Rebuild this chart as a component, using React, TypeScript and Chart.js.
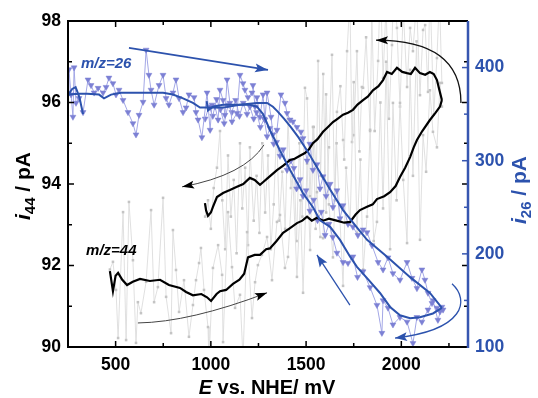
import React, { useEffect, useRef } from 'react';
import { Chart, registerables } from 'chart.js';
Chart.register(...registerables);

const FONT = '"Liberation Sans", Arial, Helvetica, sans-serif';
const BLUE = '#2c52ad';
const BLUE_AXIS = '#3756b0';

// ---------- tick values ----------
const xMajor = [500, 1000, 1500, 2000];
const xMinor = [750, 1250, 1750, 2250];
const yMajor = [90, 92, 94, 96, 98];
const yMinor = [91, 93, 95, 97];
const y2Major = [100, 200, 300, 400];
const y2Minor = [150, 250, 350, 450];

// ---------- m/z = 44 smoothed (black), left axis ----------
const e44Fwd = [470,486,500,513,535,560,590,628,680,733,780,838,870,906,950,980,1001,1030,1048,1080,1116,1150,1175,1195,1230,1258,1290,1310,1345,1379,1410,1452,1480,1505,1530,1557,1590,1620,1660,1700,1731,1760,1783,1820,1850,1872,1910,1941,1970,1993,2020,2046,2065,2082,2110,2150,2180,2203,2213];
const i44Fwd = [91.86,91.37,91.75,91.82,91.65,91.52,91.6,91.67,91.62,91.65,91.52,91.45,91.35,91.27,91.3,91.22,91.13,91.3,91.37,91.4,91.55,91.65,91.8,92.2,92.26,92.26,92.4,92.42,92.6,92.8,92.9,93.04,93.1,93.2,93.1,93.17,93.1,93.15,93.1,93.05,93.07,93.25,93.36,93.44,93.5,93.63,93.7,93.8,93.95,94.17,94.4,94.66,94.9,95.08,95.3,95.57,95.75,95.9,96.06];
const e44Rev = [2213,2200,2187,2170,2150,2125,2098,2072,2050,2030,2005,1977,1950,1925,1904,1880,1851,1825,1799,1770,1746,1720,1694,1665,1641,1615,1589,1560,1536,1515,1494,1470,1440,1416,1380,1347,1300,1275,1258,1230,1205,1170,1137,1100,1064,1032,1011,1000,985,975,969];
const i44Rev = [96.06,96.3,96.55,96.7,96.75,96.68,96.72,96.85,96.7,96.72,96.75,96.85,96.7,96.75,96.55,96.4,96.3,96.15,96.06,95.95,95.82,95.75,95.7,95.6,95.52,95.4,95.28,95.1,95.0,94.85,94.76,94.7,94.62,94.59,94.45,94.34,94.15,94.05,93.98,94.1,94.15,94.0,93.93,93.85,93.78,93.68,93.44,93.3,93.22,93.35,93.53];

// ---------- m/z = 44 raw (grey) ----------
const e44RawFwd = [470,486,502,513,539,555,570,591,607,617,633,660,686,702,722,749,765,791,801,817,833,859,885,906,922,938,948,964,985,990,1011,1038,1059,1064,1090,1111,1127,1153,1169,1190,1216,1232,1247,1268,1295,1321,1347,1363,1389,1405,1430,1452,1470,1484,1505,1521,1540,1557,1575,1589,1605,1620,1641,1660,1678,1694,1710,1731,1750,1767,1785,1800,1820,1836,1855,1872,1890,1904,1920,1941,1956,1975,1993,2010,2030,2046,2061,2080,2098,2114,2130,2150,2166,2187,2203,2213];
const i44RawFwd = [91.9,92.09,91.4,90.22,93.31,90.17,93.56,92.13,90.1,91.1,90.83,91.6,93.36,91.1,91.47,93.66,91.23,90.34,92.87,91.89,90.86,91.64,90.25,91.03,91.64,92.06,92.43,91.4,90.49,89.6,91.94,92.5,91.77,90.12,93.31,91.96,90.96,91.28,89.7,92.82,90.71,91.59,92.01,92.26,92.7,91.64,93.07,93.24,91.94,92.21,94.2,91.72,93.6,91.33,94.5,92.38,95.4,93.8,92.7,92.67,96.2,93.5,92.2,95.0,93.1,91.5,94.4,93.0,96.5,92.8,94.6,91.9,93.2,95.3,92.6,93.07,96.0,93.4,97.0,92.4,95.99,93.6,95.99,94.1,92.55,96.8,94.2,97.5,92.63,95.2,94.3,96.3,95.28,94.9,96.48,95.9];
const e44RawRev = [2213,2200,2187,2170,2150,2140,2125,2114,2098,2080,2061,2046,2030,2010,1993,1977,1960,1951,1935,1920,1904,1890,1878,1860,1845,1836,1815,1799,1793,1780,1767,1750,1741,1730,1715,1700,1694,1680,1662,1650,1636,1620,1605,1590,1576,1563,1550,1536,1520,1505,1494,1480,1465,1450,1436,1420,1405,1390,1375,1360,1345,1330,1315,1300,1285,1270,1255,1240,1225,1205,1195,1180,1165,1153,1135,1120,1105,1090,1075,1060,1048,1032,1015,1000,985,970];
const i44RawRev = [96.48,98.6,97.09,95.7,98.9,96.26,97.9,97.78,96.18,98.5,97.26,97.83,96.38,98.3,95.9,97.83,99.0,97.41,95.6,98.4,96.6,99.0,97.02,95.3,98.2,95.33,97.6,96.36,96.38,94.8,97.26,95.2,95.03,98.5,97.26,94.6,95.08,96.4,95.77,93.6,97.17,94.9,93.3,96.7,94.2,97.02,92.9,95.4,93.7,96.1,96.36,93.2,95.0,92.6,94.6,93.9,95.6,92.9,94.3,93.1,95.3,93.5,92.4,94.7,93.3,95.0,92.8,94.2,93.1,94.9,92.5,94.4,93.4,95.0,92.3,94.1,93.2,94.7,92.4,93.6,95.3,94.4,93.9,92.9,93.6,93.2];

// ---------- m/z = 26 smoothed (blue), right axis ----------
const e26Fwd = [329,310,290,272,255,240,260,300,350,413,439,476,528,591,660,749,801,854,906,943,1000,1064,1153,1242,1295,1326,1350,1385,1420,1460,1505,1557,1626,1694,1760,1820,1925,2046,2150,2213];
const i26Fwd = [350,368,379,377,372,370,371,372,372,371,367,371,373,373,373,373,371,367,362,357,357,357,360,362,362,358,353,345,336,325,311,293,269,247,230,215,197,175,158,142];
const e26Rev = [2213,2166,2098,2046,1993,1941,1888,1820,1767,1731,1678,1626,1573,1536,1484,1416,1363,1337,1310,1274,1242,1205,1137,1064,1011,985,978];
const i26Rev = [142,136,132,131,134,143,158,174,186,197,215,229,236,250,265,290,311,322,333,350,358,360,360,360,358,354,364];

// ---------- m/z = 26 raw (triangles) ----------
const e26RawFwd = [250,255,266,276,282,292,308,329,355,371,387,408,434,450,465,486,502,518,539,565,591,607,623,644,660,675,686,702,728,749,765,780,801,817,833,854,870,885,912,922,933,953,980,996,1006,1022,1038,1048,1064,1074,1085,1100,1111,1137,1153,1169,1179,1195,1216,1221,1232,1242,1258,1274,1284,1295,1316,1326,1347,1368,1389,1400,1416,1431,1452,1473,1484,1505,1520,1536,1557,1573,1589,1605,1626,1641,1662,1678,1694,1720,1746,1772,1799,1820,1846,1878,1904,1930,1956,1993,2030,2056,2082,2108,2124,2140,2161,2187,2203,2219];
const i26RawFwd = [372,398,371,347,400,362,367,352,387,381,373,378,373,379,389,383,371,376,365,352,340,328,349,363,419,392,376,360,381,392,367,360,373,387,367,352,357,371,368,352,344,325,373,333,360,358,344,376,365,349,387,362,342,351,392,383,376,368,373,381,358,368,347,371,344,373,347,328,333,371,362,351,344,342,336,331,324,300,318,290,296,270,283,262,275,250,268,238,252,232,229,220,226,223,209,191,183,196,179,172,191,174,163,183,172,158,147,142,138,140];
const e26RawRev = [2213,2192,2166,2140,2108,2082,2061,2030,1993,1956,1930,1904,1898,1872,1836,1799,1770,1746,1720,1694,1662,1640,1620,1600,1580,1560,1540,1520,1500,1484,1468,1450,1436,1420,1400,1380,1363,1345,1330,1310,1295,1280,1260,1240,1225,1205,1190,1170,1150,1130,1110,1090,1070,1050,1030,1010,990,970];
const i26RawRev = [143,129,150,140,127,132,104,127,132,124,142,150,115,145,164,181,175,197,190,191,201,218,232,220,245,236,258,246,268,262,280,270,292,300,290,312,305,320,318,335,326,345,336,352,345,358,350,362,348,365,352,360,340,355,366,348,358,345];

// ---------- annotations (data units, left axis) ----------
const arrowBlueTop = [[570, 97.34], [1300, 96.8]];
const arrowMidLeft = [[1279, 94.96], [1179, 94.22], [849, 93.93]];
const arrowBottom = [[617, 90.59], [890, 90.61], [1295, 91.33]];
const arrowTopRight = [[2313, 95.99], [2313, 97.53], [1867, 97.53]];
const arrowBlueUp = [[1730, 91.03], [1557, 92.26]];
const arrowBlueBottom = [[2266, 91.55], [2360, 91.15], [2334, 90.42], [1967, 90.22]];
const label26 = { text: 'm/z=26', e: 318, v: 96.85 };
const label44 = { text: 'm/z=44', e: 345, v: 92.26 };

const zip = (xs: number[], ys: number[]) => xs.slice(0, Math.min(xs.length, ys.length)).map((x, i) => ({ x, y: ys[i] }));

function drawArrow(ctx: CanvasRenderingContext2D, pts: number[][], color: string, lw: number, headLen: number, headW: number, lineColor?: string) {
  ctx.save();
  ctx.strokeStyle = lineColor || color;
  ctx.lineWidth = lw;
  ctx.beginPath();
  ctx.moveTo(pts[0][0], pts[0][1]);
  if (pts.length === 2) ctx.lineTo(pts[1][0], pts[1][1]);
  else if (pts.length === 3) ctx.quadraticCurveTo(pts[1][0], pts[1][1], pts[2][0], pts[2][1]);
  else ctx.bezierCurveTo(pts[1][0], pts[1][1], pts[2][0], pts[2][1], pts[3][0], pts[3][1]);
  ctx.stroke();
  const end = pts[pts.length - 1];
  const prev = pts[pts.length - 2];
  const ang = Math.atan2(end[1] - prev[1], end[0] - prev[0]);
  ctx.fillStyle = color;
  ctx.translate(end[0], end[1]);
  ctx.rotate(ang);
  ctx.beginPath();
  ctx.moveTo(0, 0);
  ctx.lineTo(-headLen, -headW / 2);
  ctx.lineTo(-headLen * 0.8, 0);
  ctx.lineTo(-headLen, headW / 2);
  ctx.closePath();
  ctx.fill();
  ctx.restore();
}

type Seg = { t: string; f: string; dy?: number };
function drawRich(ctx: CanvasRenderingContext2D, segs: Seg[], x: number, y: number, rot: number, color: string) {
  ctx.save();
  ctx.translate(x, y);
  ctx.rotate(rot);
  ctx.fillStyle = color;
  ctx.textBaseline = 'alphabetic';
  ctx.textAlign = 'left';
  let total = 0;
  for (const s of segs) { ctx.font = s.f; total += ctx.measureText(s.t).width; }
  let cx = -total / 2;
  for (const s of segs) {
    ctx.font = s.f;
    ctx.fillText(s.t, cx, s.dy || 0);
    cx += ctx.measureText(s.t).width;
  }
  ctx.restore();
}

const decorPlugin = {
  id: 'decor',
  afterDatasetsDraw(chart: any) {
    const { ctx, chartArea: a, scales } = chart;
    const sx = scales.x, sy = scales.y, sy2 = scales.y2;
    const P = (p: number[]) => [sx.getPixelForValue(p[0]), sy.getPixelForValue(p[1])];
    ctx.save();
    // annotations
    drawArrow(ctx, arrowBlueTop.map(P), BLUE, 1.6, 13, 9);
    drawArrow(ctx, arrowMidLeft.map(P), '#000', 1, 12, 8, '#444');
    drawArrow(ctx, arrowBottom.map(P), '#000', 1, 12, 8, '#444');
    drawArrow(ctx, arrowTopRight.map(P), '#000', 1.3, 12, 8, '#111');
    drawArrow(ctx, arrowBlueUp.map(P), BLUE, 1.3, 12, 9);
    drawArrow(ctx, arrowBlueBottom.map(P), BLUE, 1.3, 12, 9);
    ctx.font = `italic bold 15px ${FONT}`;
    ctx.textAlign = 'left';
    ctx.textBaseline = 'alphabetic';
    ctx.fillStyle = BLUE;
    let p = P([label26.e, label26.v]);
    ctx.fillText(label26.text, p[0], p[1]);
    ctx.fillStyle = '#000';
    p = P([label44.e, label44.v]);
    ctx.fillText(label44.text, p[0], p[1]);

    // ticks
    ctx.lineWidth = 1.5;
    ctx.strokeStyle = '#000';
    const vt = (v: number, len: number) => {
      const x = sx.getPixelForValue(v);
      ctx.beginPath();
      ctx.moveTo(x, a.bottom); ctx.lineTo(x, a.bottom - len);
      ctx.moveTo(x, a.top); ctx.lineTo(x, a.top + len);
      ctx.stroke();
    };
    xMajor.forEach(v => vt(v, 6));
    xMinor.forEach(v => vt(v, 4));
    const ht = (v: number, len: number) => {
      const y = sy.getPixelForValue(v);
      ctx.beginPath();
      ctx.moveTo(a.left, y); ctx.lineTo(a.left + len, y);
      ctx.moveTo(a.right, y); ctx.lineTo(a.right - len, y);
      ctx.stroke();
    };
    yMajor.forEach(v => ht(v, 6));
    yMinor.forEach(v => ht(v, 4));
    ctx.strokeStyle = BLUE_AXIS;
    const rt = (v: number, len: number) => {
      const y = sy2.getPixelForValue(v);
      ctx.beginPath();
      ctx.moveTo(a.right, y); ctx.lineTo(a.right - len, y);
      ctx.stroke();
    };
    y2Major.forEach(v => rt(v, 6));
    y2Minor.forEach(v => rt(v, 4));

    // frame
    ctx.lineWidth = 2;
    ctx.strokeStyle = '#000';
    ctx.beginPath();
    ctx.moveTo(a.right, a.top); ctx.lineTo(a.left, a.top); ctx.lineTo(a.left, a.bottom); ctx.lineTo(a.right, a.bottom);
    ctx.stroke();
    ctx.strokeStyle = BLUE_AXIS;
    ctx.lineWidth = 2.5;
    ctx.beginPath();
    ctx.moveTo(a.right, a.top); ctx.lineTo(a.right, a.bottom + 1);
    ctx.stroke();

    // axis titles
    const big = `bold 21px ${FONT}`;
    const bigI = `italic bold 21px ${FONT}`;
    const sub = `bold 15px ${FONT}`;
    drawRich(ctx, [{ t: 'i', f: bigI }, { t: '44', f: sub, dy: 5 }, { t: ' / pA', f: big }], 30, 186, -Math.PI / 2, '#000');
    drawRich(ctx, [{ t: 'i', f: bigI }, { t: '26', f: sub, dy: 5 }, { t: ' / pA', f: big }], 526, 190, -Math.PI / 2, BLUE);
    drawRich(ctx, [{ t: 'E', f: `italic bold 20px ${FONT}` }, { t: ' vs. NHE/ mV', f: `bold 20px ${FONT}` }], 267, 394, 0, '#000');
    ctx.restore();
  },
};

export default function App() {
  const ref = useRef<HTMLCanvasElement>(null);
  useEffect(() => {
    const tickFont = { family: FONT, size: 17.5, weight: 'bold' as const };
    const plain = (v: any) => String(v);
    const chart = new Chart(ref.current!, {
      type: 'scatter',
      data: {
        datasets: [
          { data: zip(e26Fwd, i26Fwd), yAxisID: 'y2', showLine: true, borderColor: BLUE, borderWidth: 2, pointRadius: 0, clip: 0 } as any,
          { data: zip(e26Rev, i26Rev), yAxisID: 'y2', showLine: true, borderColor: BLUE, borderWidth: 2, pointRadius: 0, clip: 0 } as any,
          { data: zip(e44Fwd, i44Fwd), yAxisID: 'y', showLine: true, borderColor: '#000', borderWidth: 2.2, pointRadius: 0, clip: 0 } as any,
          { data: zip(e44Rev, i44Rev), yAxisID: 'y', showLine: true, borderColor: '#000', borderWidth: 2.2, pointRadius: 0, clip: 0 } as any,
          { data: zip(e26RawFwd, i26RawFwd), yAxisID: 'y2', showLine: true, borderColor: '#a3a7e6', borderWidth: 1, pointStyle: 'triangle', rotation: 180, pointRadius: 3.4, pointBackgroundColor: '#7c80d4', pointBorderColor: '#7c80d4', pointBorderWidth: 0.5, clip: 0 } as any,
          { data: zip(e26RawRev, i26RawRev), yAxisID: 'y2', showLine: true, borderColor: '#a3a7e6', borderWidth: 1, pointStyle: 'triangle', rotation: 180, pointRadius: 3.4, pointBackgroundColor: '#7c80d4', pointBorderColor: '#7c80d4', pointBorderWidth: 0.5, clip: 0 } as any,
          { data: zip(e44RawFwd, i44RawFwd), yAxisID: 'y', showLine: true, borderColor: '#dcdcdc', borderWidth: 0.9, pointStyle: 'rect', pointRadius: 1.8, pointBackgroundColor: '#c4c4c4', pointBorderWidth: 0, clip: 0 } as any,
          { data: zip(e44RawRev, i44RawRev), yAxisID: 'y', showLine: true, borderColor: '#dcdcdc', borderWidth: 0.9, pointStyle: 'rect', pointRadius: 1.8, pointBackgroundColor: '#c4c4c4', pointBorderWidth: 0, clip: 0 } as any,
        ],
      },
      options: {
        responsive: false,
        animation: false,
        devicePixelRatio: 1,
        layout: { padding: { top: 21, left: 0, right: 0, bottom: 0 } },
        plugins: { legend: { display: false }, tooltip: { enabled: false } },
        scales: {
          x: {
            type: 'linear', min: 250, max: 2350,
            grid: { display: false, drawTicks: false }, border: { display: false },
            ticks: { font: tickFont, color: '#000', padding: 8, maxRotation: 0, autoSkip: false, callback: plain },
            afterBuildTicks: (s: any) => { s.ticks = xMajor.map(v => ({ value: v })); },
            afterFit: (s: any) => { s.height = 51; },
          },
          y: {
            type: 'linear', position: 'left', min: 90, max: 98,
            grid: { display: false, drawTicks: false }, border: { display: false },
            ticks: { font: tickFont, color: '#000', padding: 7, autoSkip: false, callback: plain },
            afterBuildTicks: (s: any) => { s.ticks = yMajor.map(v => ({ value: v })); },
            afterFit: (s: any) => { s.width = 68; },
          },
          y2: {
            type: 'linear', position: 'right', min: 100, max: 450,
            grid: { display: false, drawTicks: false }, border: { display: false },
            ticks: { font: tickFont, color: BLUE, padding: 7, autoSkip: false, callback: plain },
            afterBuildTicks: (s: any) => { s.ticks = y2Major.map(v => ({ value: v })); },
            afterFit: (s: any) => { s.width = 70; },
          },
        },
      } as any,
      plugins: [decorPlugin],
    });
    return () => chart.destroy();
  }, []);
  return (
    <div style={{ position: 'fixed', left: 0, top: 0, width: 538, height: 398, background: '#fff' }}>
      <canvas ref={ref} width={538} height={398} style={{ display: 'block', width: 538, height: 398 }} />
    </div>
  );
}
